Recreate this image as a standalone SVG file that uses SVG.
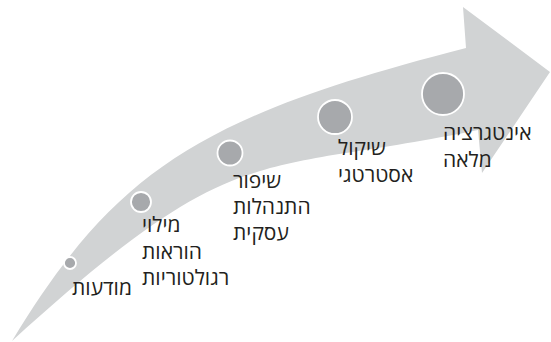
<svg xmlns="http://www.w3.org/2000/svg" width="551" height="342" viewBox="0 0 551 342">
<style>
.lbl{font-family:"Open Sans","Liberation Sans","DejaVu Sans",sans-serif;font-size:21px;fill:#231f20}
.dot{fill:#a7a9ac;stroke:#ffffff;stroke-width:1.8}
</style>
<rect width="551" height="342" fill="#ffffff"/>
<g id="arrow">
<path d="M12,341 C115.5,170 201,116 466,48 L463,7 L550,72 L482,173 L478,130 C254,176 237,136 12,341 Z" fill="#d1d3d4"/>
</g>
<g id="connectors"></g>
<g id="n1"><circle class="dot" cx="70" cy="263" r="6"/><text class="lbl" x="72" y="295">מודעות</text></g>
<g id="n2"><circle class="dot" cx="141" cy="202" r="10"/>
<text class="lbl" x="142" y="232">מילוי</text><text class="lbl" x="142" y="258.5">הוראות</text><text class="lbl" x="142" y="285">רגולטוריות</text></g>
<g id="n3"><circle class="dot" cx="230" cy="153" r="12.5"/>
<text class="lbl" x="233" y="188">שיפור</text><text class="lbl" x="233" y="214">התנהלות</text><text class="lbl" x="233" y="240">עסקית</text></g>
<g id="n4"><circle class="dot" cx="335" cy="117" r="17"/>
<text class="lbl" x="338" y="155">שיקול</text><text class="lbl" x="338" y="182">אסטרטגי</text></g>
<g id="n5"><circle class="dot" cx="443" cy="94" r="21"/>
<text class="lbl" x="443" y="140">אינטגרציה</text><text class="lbl" x="443" y="167">מלאה</text></g>
</svg>
